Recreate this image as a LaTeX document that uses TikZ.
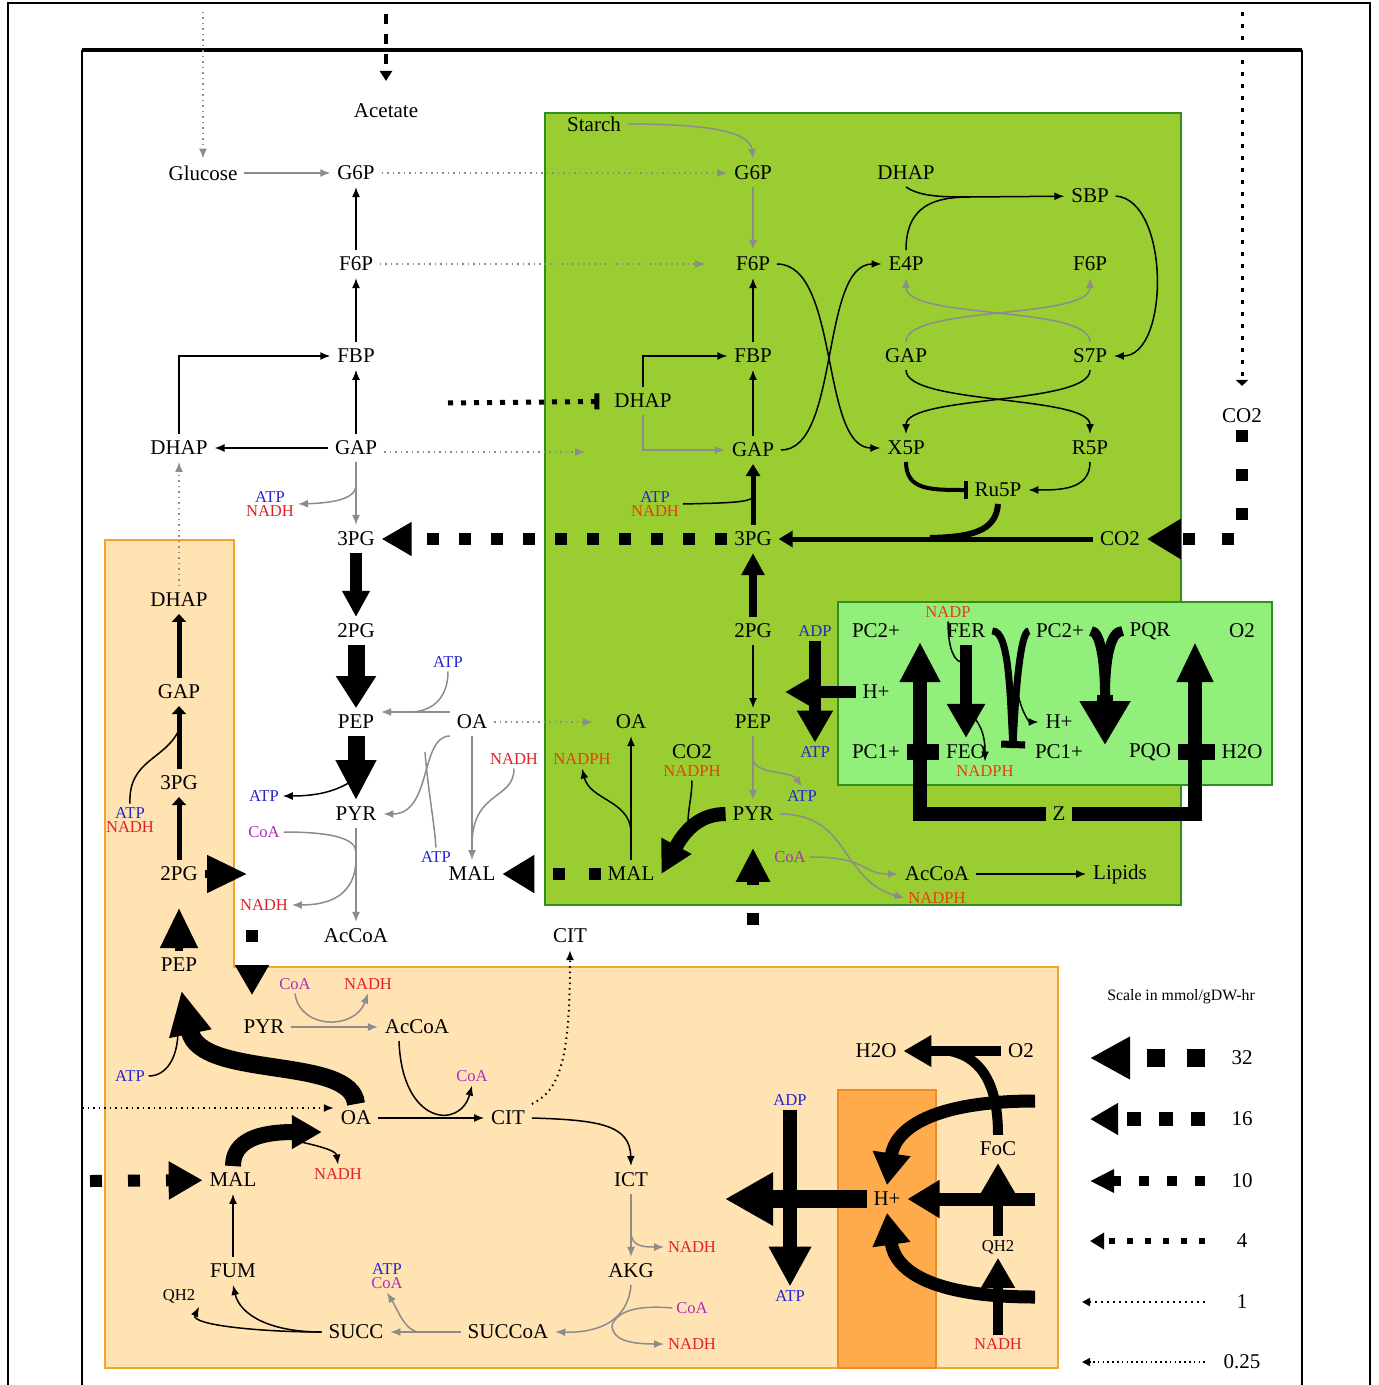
\documentclass[tikz,border=0pt]{standalone}
\usepackage{fontspec}
\setmainfont{Liberation Serif}
\usepackage{xcolor}
\definecolor{Chloro}{HTML}{9ACD32}
\definecolor{ChloroLine}{HTML}{2F8F1F}
\definecolor{Thyla}{HTML}{92EF7C}
\definecolor{Mito}{HTML}{FFE3B3}
\definecolor{MitoLine}{HTML}{F4A428}
\definecolor{Crista}{HTML}{FFAB4C}
\definecolor{CristaLine}{HTML}{EE8A22}
\definecolor{AtpBlue}{HTML}{2424D0}
\definecolor{NadhRed}{HTML}{E3202A}
\definecolor{NadphRed}{HTML}{E5400E}
\definecolor{CoaMag}{HTML}{B02CB8}
\definecolor{RxGray}{HTML}{8C8C8C}
\colorlet{chloro}{Chloro}
\colorlet{chloroline}{ChloroLine}
\colorlet{thyla}{Thyla}
\colorlet{mito}{Mito}
\colorlet{mitoline}{MitoLine}
\colorlet{crista}{Crista}
\colorlet{cristaline}{CristaLine}
\colorlet{atpblue}{AtpBlue}
\colorlet{nadhred}{NadhRed}
\colorlet{nadphred}{NadphRed}
\colorlet{coamag}{CoaMag}
\colorlet{rxgray}{RxGray}
\usepackage{tikz}
\usetikzlibrary{arrows.meta,calc}

\begin{document}
\begin{tikzpicture}[x=0.5pt,y=-0.5pt,
  met/.style={font=\fontsize{10.5}{11}\selectfont,inner sep=1pt,outer sep=2.5pt},
  cof/.style={font=\fontsize{8.3}{7}\selectfont,inner sep=0.5pt,outer sep=1.5pt,align=center},
  atp/.style={cof,text=atpblue}, nadh/.style={cof,text=nadhred}, nadph/.style={cof,text=nadphred}, coa/.style={cof,text=coamag},
  rx/.style={line width=0.75pt,-{Latex[length=5pt,width=4pt]}},
  grx/.style={rx,draw=rxgray}, side/.style={line width=0.75pt}, gside/.style={side,draw=rxgray},
  dotrx/.style={grx,dotted},
  fat/.style n args={3}{line width=#1,-{Triangle[length=#2,width=#3]}},
  tr/.style n args={4}{line width=#1,dash pattern=on #1 off #2,-{Triangle[length=#3,width=#4]}}]
\useasboundingbox (0,0) rectangle (1378,1385);
\fill[white] (0,0) rectangle (1378,1385);
% frames and compartments
\draw[line width=1pt] (8,1385) -- (8,3) -- (1370,3) -- (1370,1385);
\draw[line width=2pt] (82,50) -- (1302,50);
\draw[line width=0.8pt] (82,50) -- (82,1385) (1302,50) -- (1302,1385);
\draw[fill=chloro,draw=chloroline,line width=0.8pt] (545,113) rectangle (1181,905);
\draw[fill=mito,draw=mitoline,line width=0.8pt] (105,540) -- (234,540) -- (234,967) -- (1058,967) -- (1058,1368) -- (105,1368) -- cycle;
\draw[fill=crista,draw=cristaline,line width=0.8pt] (838,1090) rectangle (936,1368);
\draw[fill=thyla,draw=chloroline,line width=0.8pt] (838,602) rectangle (1272,785);

% cytosol
\node[met] (c-ace) at (386,111) {Acetate};
\node[met] (c-glc) at (203,173) {Glucose};
\node[met] (c-g6p) at (356,173) {G6P};
\node[met] (c-f6p) at (356,264) {F6P};
\node[met] (c-fbp) at (356,356) {FBP};
\node[met] (c-gap) at (356,448) {GAP};
\node[met] (c-dhap) at (179,448) {DHAP};
\node[cof] (c-an) at (270,504) {\textcolor{atpblue}{ATP}\\\textcolor{nadhred}{NADH}};
\node[met] (c-3pg) at (356,539) {3PG};
\node[met] (c-2pg) at (356,631) {2PG};
\node[met] (c-pep) at (356,722) {PEP};
\node[atp] (c-atp1) at (448,662) {ATP};
\node[met] (c-oa) at (472,722) {OA};
\node[nadh] (c-nadh1) at (514,759) {NADH};
\node[atp] (c-atp2) at (264,796) {ATP};
\node[met] (c-pyr) at (356,814) {PYR};
\node[coa] (c-coa) at (264,832) {CoA};
\node[atp] (c-atp3) at (436,857) {ATP};
\node[met] (c-mal) at (472,874) {MAL};
\node[nadh] (c-nadh2) at (264,905) {NADH};
\node[met] (c-accoa) at (356,936) {AcCoA};
\node[met] (c-cit) at (570,936) {CIT};

% chloroplast
\node[met] (g-starch) at (594,124) {Starch};
\node[met] (g-g6p) at (753,173) {G6P};
\node[met] (g-f6p) at (753,264) {F6P};
\node[met] (g-fbp) at (753,356) {FBP};
\node[met] (g-dhap) at (643,401) {DHAP};
\node[met] (g-gap) at (753,450) {GAP};
\node[cof] (g-an) at (655,504) {\textcolor{atpblue}{ATP}\\\textcolor{nadphred}{NADH}};
\node[met] (g-3pg) at (753,539) {3PG};
\node[met] (g-co2) at (1120,539) {CO2};
\node[met] (g-2pg) at (753,631) {2PG};
\node[met] (g-pep) at (753,722) {PEP};
\node[met] (g-oa) at (631,722) {OA};
\node[nadph] (g-nadph1) at (582,759) {NADPH};
\node[met] (g-co2b) at (692,752) {CO2};
\node[nadph] (g-nadph2) at (692,771) {NADPH};
\node[met] (g-pyr) at (753,814) {PYR};
\node[atp] (g-atp) at (802,796) {ATP};
\node[coa] (g-coa) at (790,857) {CoA};
\node[met] (g-mal) at (631,874) {MAL};
\node[met] (g-accoa) at (937,874) {AcCoA};
\node[met] (g-lip) at (1120,874) {Lipids};
\node[nadph] (g-nadph3) at (937,898) {NADPH};
\node[met] (k-dhap) at (906,173) {DHAP};
\node[met] (k-sbp) at (1090,196) {SBP};
\node[met] (k-e4p) at (906,264) {E4P};
\node[met] (k-f6p) at (1090,264) {F6P};
\node[met] (k-gap) at (906,356) {GAP};
\node[met] (k-s7p) at (1090,356) {S7P};
\node[met] (k-x5p) at (906,448) {X5P};
\node[met] (k-r5p) at (1090,448) {R5P};
\node[met] (k-ru5p) at (998,490) {Ru5P};
\node[met] (e-co2) at (1242,416) {CO2};

% thylakoid
\node[met] (t-pc2a) at (876,631) {PC2+};
\node[met] (t-fer) at (966,631) {FER};
\node[met] (t-pc2b) at (1060,631) {PC2+};
\node[met] (t-pqr) at (1150,631) {PQR};
\node[met] (t-o2) at (1242,631) {O2};
\node[met] (t-hp1) at (876,692) {H+};
\node[met] (t-hp2) at (1059,722) {H+};
\node[met] (t-pc1a) at (876,752) {PC1+};
\node[met] (t-feo) at (966,752) {FEO};
\node[met] (t-pc1b) at (1059,752) {PC1+};
\node[met] (t-pqo) at (1150,752) {PQO};
\node[met] (t-h2o) at (1242,752) {H2O};
\node[nadph] (t-nadp) at (948,612) {NADP};
\node[nadph] (t-nadph) at (985,771) {NADPH};
\node[met] (t-z) at (1059,814) {Z};
\node[atp] (t-adp) at (815,631) {ADP};
\node[atp] (t-atp) at (815,752) {ATP};

% mitochondrion
\node[met] (m-dhap) at (179,600) {DHAP};
\node[met] (m-gap) at (179,692) {GAP};
\node[met] (m-3pg) at (179,783) {3PG};
\node[cof] (m-an) at (130,820) {\textcolor{atpblue}{ATP}\\\textcolor{nadhred}{NADH}};
\node[met] (m-2pg) at (179,874) {2PG};
\node[met] (m-pep) at (179,965) {PEP};
\node[met] (m-pyr) at (264,1027) {PYR};
\node[coa] (m-coa1) at (295,984) {CoA};
\node[nadh] (m-nadh1) at (368,984) {NADH};
\node[met] (m-accoa) at (417,1027) {AcCoA};
\node[atp] (m-atp) at (130,1076) {ATP};
\node[coa] (m-coa2) at (472,1076) {CoA};
\node[met] (m-oa) at (356,1118) {OA};
\node[met] (m-cit) at (508,1118) {CIT};
\node[met] (m-mal) at (233,1180) {MAL};
\node[nadh] (m-nadh2) at (338,1174) {NADH};
\node[met] (m-ict) at (631,1180) {ICT};
\node[met] (m-fum) at (233,1271) {FUM};
\node[met] (m-akg) at (631,1271) {AKG};
\node[nadh] (m-nadh3) at (692,1247) {NADH};
\node[cof] (m-qh2) at (179,1296) {QH2};
\node[cof] (m-ac) at (387,1276) {\textcolor{atpblue}{ATP}\\\textcolor{coamag}{CoA}};
\node[met] (m-succ) at (356,1332) {SUCC};
\node[met] (m-succoa) at (508,1332) {SUCCoA};
\node[coa] (m-coa3) at (692,1308) {CoA};
\node[nadh] (m-nadh4) at (692,1344) {NADH};
\node[met] (r-h2o) at (876,1051) {H2O};
\node[met] (r-o2) at (1021,1051) {O2};
\node[atp] (r-adp) at (790,1100) {ADP};
\node[met] (r-foc) at (998,1149) {FoC};
\node[met] (r-hp) at (887,1199) {H+};
\node[cof] (r-qh2) at (998,1247) {QH2};
\node[atp] (r-atp) at (790,1296) {ATP};
\node[nadh] (r-nadh) at (998,1344) {NADH};

% scale
\node[font=\fontsize{7.9}{9}\selectfont] (s-title) at (1181,997) {Scale in mmol/gDW-hr};
\node[met] (s32) at (1242,1058) {32};
\node[met] (s16) at (1242,1119) {16};
\node[met] (s10) at (1242,1181) {10};
\node[met] (s4) at (1242,1241) {4};
\node[met] (s1) at (1242,1302) {1};
\node[met] (s025) at (1242,1362) {0.25};

% cytosol reactions
\coordinate (glc-in) at (203,12);
\draw[dotrx] (glc-in) -- (c-glc);
\coordinate (ace-in) at (386,14);
\draw[line width=2pt,dash pattern=on 5pt off 5pt,-{Triangle[length=5pt,width=6pt]},shorten >=8pt] (ace-in) -- (c-ace);
\draw[grx] (c-glc) -- (c-g6p);
\draw[dotrx] (c-g6p) -- (g-g6p);
\draw[dotrx,shorten >=12pt] (c-f6p) -- (g-f6p);
\coordinate (gap-out) at (585,452);
\draw[dotrx] (c-gap.east |- gap-out) -- (gap-out);
\draw[rx] (c-f6p) -- (c-g6p);
\draw[rx] (c-fbp) -- (c-f6p);
\draw[rx] (c-gap) -- (c-fbp);
\draw[rx] (c-gap) -- (c-dhap);
\draw[rx] (c-dhap) |- (c-fbp);
\draw[grx] (c-gap) -- (c-3pg);
\coordinate (j-gap) at (356,485);
\draw[grx] (j-gap) .. controls (356,500) and (330,503) .. (c-an.east);
\draw[tr={6pt}{10pt}{15pt}{16pt}] (g-3pg) -- (c-3pg);
\draw[fat={6pt}{13pt}{13pt}] (c-3pg) -- (c-2pg);
\draw[fat={8.5pt}{16pt}{19pt}] (c-2pg) -- (c-pep);
\draw[fat={8.5pt}{20pt}{19pt}] (c-pep) -- (c-pyr);
\coordinate (j-pep) at (356,778);
\draw[rx] (j-pep) .. controls (340,790) and (320,796) .. (c-atp2.east);
\draw[grx] (c-pyr) -- (c-accoa);
\coordinate (j-pyr1) at (356,852);
\coordinate (j-pyr2) at (356,858);
\draw[gside] (c-coa.east) .. controls (330,832) and (356,838) .. (j-pyr1);
\draw[grx] (j-pyr2) .. controls (356,895) and (330,905) .. (c-nadh2.east);
\draw[grx] ([yshift=5pt]c-oa.west) -- ([yshift=5pt]c-pep.east);
\coordinate (j-oa1) at (410,712);
\draw[gside] (c-atp1.south) .. controls (448,700) and (430,712) .. (j-oa1);
\draw[grx] ([yshift=-7pt]c-oa.west) .. controls (420,736) and (432,814) .. (c-pyr.east);
\coordinate (j-oa2) at (425,752);
\draw[gside] (j-oa2) .. controls (428,790) and (434,820) .. (c-atp3.north);
\draw[grx] (c-oa) -- (c-mal);
\coordinate (j-oa3) at (472,842);
\draw[gside] (c-nadh1.south) .. controls (514,800) and (474,790) .. (j-oa3);
\draw[dotrx,shorten >=8pt] (c-oa) -- (g-oa);
\draw[tr={6pt}{12pt}{16pt}{18pt}] (g-mal) -- (c-mal);
\coordinate (dhap-in) at (448,403);
\draw[line width=2.5pt,dash pattern=on 2.5pt off 4pt,-{Bar[width=8pt]},shorten >=4pt] (dhap-in) -- (g-dhap);

% chloroplast reactions
\draw[grx] (g-starch.east) .. controls (700,124) and (750,130) .. (g-g6p.north);
\draw[grx] (g-g6p) -- (g-f6p);
\draw[rx] (g-fbp) -- (g-f6p);
\draw[rx] (g-gap) -- (g-fbp);
\draw[rx] (g-dhap) |- (g-fbp);
\draw[grx] (g-dhap) |- (g-gap);
\draw[fat={2.5pt}{6pt}{7pt}] (g-3pg) -- (g-gap);
\coordinate (j-g3pg) at (753,497);
\draw[side] (g-an.east) .. controls (720,503) and (750,503) .. (j-g3pg);
\draw[fat={4pt}{11pt}{11pt}] (g-2pg) -- (g-3pg);
\draw[rx] (g-2pg) -- (g-pep);
\draw[grx] (g-pep) -- (g-pyr);
\coordinate (j-gpep) at (753,758);
\draw[grx] (j-gpep) .. controls (753,775) and (790,770) .. (g-atp.north);
\draw[fat={7pt}{16pt}{16pt}] (g-pyr.west) .. controls (700,814) and (685,830) .. (g-mal.east);
\coordinate (j-gpyr) at (688,822);
\draw[side] (g-nadph2.south) .. controls (692,795) and (688,810) .. (j-gpyr);
\draw[rx] (g-mal) -- (g-oa);
\coordinate (j-gmal) at (631,830);
\draw[rx] (j-gmal) .. controls (628,800) and (590,800) .. (g-nadph1.south);
\draw[grx] (g-pyr.east) .. controls (850,814) and (840,880) .. (g-nadph3.west);
\draw[grx] (g-coa.east) .. controls (870,857) and (860,874) .. (g-accoa.west);
\draw[rx] (g-accoa) -- (g-lip);
\coordinate (pyr-in) at (753,925);
\draw[tr={6pt}{14pt}{17pt}{16pt},shorten >=10pt] (pyr-in) -- (g-pyr);
\draw[fat={2.5pt}{7pt}{8pt}] (g-co2) -- (g-3pg);
\coordinate (j-ru5p) at (930,538);
\draw[line width=3pt] (k-ru5p.south) .. controls (996,532) and (970,537) .. (j-ru5p);
\draw[rx] (g-f6p.east) .. controls (840,264) and (820,448) .. (k-x5p.west);
\draw[rx] (g-gap.east) .. controls (840,450) and (820,264) .. (k-e4p.west);
\coordinate (j-sbp) at (970,197);
\draw[side] (k-dhap.south) .. controls (920,197) and (945,197) .. (j-sbp);
\draw[side] (k-e4p.north) .. controls (906,205) and (935,197) .. (j-sbp);
\draw[rx] (j-sbp) -- (k-sbp);
\draw[rx] (k-sbp.east) .. controls (1170,200) and (1170,356) .. (k-s7p.east);
\draw[grx] (k-gap.north) .. controls (906,305) and (1090,320) .. (k-f6p.south);
\draw[grx] (k-s7p.north) .. controls (1090,305) and (906,320) .. (k-e4p.south);
\draw[rx] (k-gap.south) .. controls (906,405) and (1090,395) .. (k-r5p.north);
\draw[rx] (k-s7p.south) .. controls (1090,405) and (906,395) .. (k-x5p.north);
\draw[line width=2pt,-{Bar[width=9pt]}] (k-x5p.south) .. controls (906,490) and (930,490) .. (k-ru5p.west);
\draw[rx] (k-r5p.south) .. controls (1090,490) and (1060,490) .. (k-ru5p.east);
\coordinate (co2-in) at (1242,12);
\draw[line width=1.5pt,dash pattern=on 2pt off 4pt,-{Triangle[length=3pt,width=6pt]},shorten >=8pt] (co2-in) -- (e-co2);
\draw[tr={6pt}{13.5pt}{17pt}{19pt}] (e-co2) |- (g-co2);

% thylakoid reactions
\coordinate (hp-out) at (785,692);
\draw[fat={6pt}{16pt}{17pt}] (t-hp1) -- (hp-out);
\draw[fat={6pt}{16pt}{17pt}] (t-adp) -- (t-atp);
\coordinate (zl) at (920,642);
\coordinate (zr) at (1195,642);
\draw[fat={7pt}{20pt}{19pt}] (t-z.west) -| (zl);
\draw[fat={7pt}{20pt}{17pt}] (t-z.east) -| (zr);
\draw[line width=8pt] (t-pc1a.east) -- (t-feo.west);
\draw[line width=8pt] (t-pqo.east) -- (t-h2o.west);
\draw[fat={6pt}{17pt}{18pt}] (t-fer) -- (t-feo);
\coordinate (j-fer1) at (962,662);
\coordinate (j-fer2) at (968,712);
\draw[side] (t-nadp.south) .. controls (948,650) and (955,662) .. (j-fer1);
\draw[rx] (j-fer2) .. controls (985,725) and (985,745) .. (t-nadph.north);
\coordinate (cb) at (1013,748);
\draw[line width=3.5pt] (t-fer.east) .. controls (1010,630) and (1010,700) .. (cb);
\draw[line width=3.5pt,-{Bar[width=12pt]}] (t-pc2b.west) .. controls (1020,630) and (1015,700) .. (cb);
\coordinate (j-cb) at (1017,690);
\draw[rx] (j-cb) .. controls (1022,715) and (1030,722) .. (t-hp2.west);
\coordinate (pq) at (1105,695);
\coordinate (pq2) at (1105,745);
\draw[line width=5pt] (t-pc2b.east) .. controls (1100,631) and (1105,660) .. (pq);
\draw[line width=5pt] (t-pqr.west) .. controls (1110,631) and (1105,660) .. (pq);
\draw[fat={8pt}{22pt}{24pt}] (pq) -- (pq2);

% mitochondrion reactions
\draw[dotrx] (m-dhap) -- (c-dhap);
\draw[fat={2.5pt}{4pt}{7pt}] (m-gap) -- (m-dhap);
\draw[fat={2.5pt}{4pt}{7pt}] (m-3pg) -- (m-gap);
\draw[fat={2.5pt}{4pt}{7pt}] (m-2pg) -- (m-3pg);
\coordinate (j-m3pg) at (179,730);
\draw[side] (m-an.north) .. controls (128,760) and (165,760) .. (j-m3pg);
\draw[fat={4pt}{20pt}{18pt},shorten >=10pt] (m-pep) -- (m-2pg);
\coordinate (m2pg-out) at (247,874);
\draw[fat={4pt}{20pt}{18pt}] (m-2pg) -- (m2pg-out);
\coordinate (pyrm-in) at (252,930);
\draw[tr={6pt}{12pt}{15pt}{16pt},shorten >=9pt] (pyrm-in) -- (pyrm-in |- m-pyr.north);
\draw[fat={9pt}{22pt}{20pt},shorten >=6pt] (m-oa.north) .. controls (352,1055) and (200,1080) .. (m-pep.south);
\coordinate (j-moa) at (178,1030);
\draw[side] (m-atp.east) .. controls (165,1076) and (178,1060) .. (j-moa);
\draw[grx] (m-pyr) -- (m-accoa);
\draw[grx] (m-coa1.south) .. controls (300,1030) and (355,1030) .. (m-nadh1.south);
\draw[rx] (m-oa) -- (m-cit);
\draw[rx] ([xshift=-9pt]m-accoa.south) .. controls (402,1125) and (460,1130) .. (m-coa2.south);
\draw[rx,dotted,line width=1pt] (m-cit.north east) .. controls (560,1090) and (570,1060) .. (c-cit.south);
\coordinate (oa-in) at (82,1108);
\draw[rx,dotted,line width=0.8pt] (oa-in) -- (oa-in -| m-oa.west);
\coordinate (mal-in) at (90,1181);
\draw[tr={6pt}{13pt}{17pt}{18pt}] (mal-in) -- (m-mal);
\draw[fat={8pt}{15pt}{16pt},shorten >=6pt] (m-mal.north) .. controls (233,1140) and (260,1132) .. (m-oa.south west);
\coordinate (j-mmal) at (292,1140);
\draw[rx] (j-mmal) .. controls (315,1145) and (336,1150) .. (m-nadh2.north);
\draw[rx] (m-cit.east) .. controls (600,1120) and (630,1125) .. (m-ict.north);
\draw[grx] (m-ict) -- (m-akg);
\coordinate (j-mict) at (631,1232);
\draw[grx] (j-mict) .. controls (631,1247) and (645,1247) .. (m-nadh3.west);
\draw[grx] (m-akg.south) .. controls (628,1320) and (600,1333) .. (m-succoa.east);
\coordinate (j-makg) at (612,1325);
\draw[gside] (m-coa3.west) .. controls (640,1305) and (618,1310) .. (j-makg);
\draw[grx] (j-makg) .. controls (612,1340) and (630,1344) .. (m-nadh4.west);
\draw[grx] (m-succoa) -- (m-succ);
\coordinate (j-msucc) at (420,1332);
\draw[grx] (j-msucc) .. controls (405,1332) and (398,1310) .. (m-ac.south);
\draw[rx] (m-succ.west) .. controls (270,1332) and (240,1315) .. (m-fum.south);
\draw[rx] (m-succ.west) .. controls (260,1332) and (190,1325) .. (m-qh2.south east);
\draw[rx] (m-fum) -- (m-mal);
\draw[fat={5pt}{14pt}{15pt}] (r-o2) -- (r-h2o);
\coordinate (j-h2o) at (950,1051);
\draw[line width=5pt] (r-foc.north) .. controls (998,1090) and (985,1058) .. (j-h2o);
\coordinate (e1) at (1035,1101);
\coordinate (e2) at (1035,1199);
\coordinate (e3) at (1035,1297);
\draw[fat={6.5pt}{16pt}{18pt}] (e1) .. controls (930,1101) and (895,1130) .. (r-hp.north);
\draw[fat={6.5pt}{16pt}{18pt}] (e2) -- (r-hp.east);
\draw[fat={6.5pt}{16pt}{18pt}] (e3) .. controls (930,1297) and (895,1270) .. (r-hp.south);
\draw[fat={5pt}{15pt}{16pt}] (r-qh2) -- (r-foc);
\draw[fat={5pt}{15pt}{16pt}] (r-nadh) -- (r-qh2);
\coordinate (hpm-out) at (725,1199);
\draw[fat={9pt}{24pt}{25pt}] (r-hp) -- (hpm-out);
\draw[fat={7pt}{20pt}{20pt}] (r-adp) -- (r-atp);

% scale arrows
\coordinate (b32) at (1205,1058); \coordinate (a32) at (1090,1058);
\coordinate (b16) at (1205,1119); \coordinate (a16) at (1090,1119);
\coordinate (b10) at (1205,1181); \coordinate (a10) at (1090,1181);
\coordinate (b4) at (1205,1241); \coordinate (a4) at (1090,1241);
\coordinate (b1) at (1205,1302); \coordinate (a1) at (1082,1302);
\coordinate (b025) at (1205,1362); \coordinate (a025) at (1082,1362);
\draw[tr={9pt}{11pt}{20pt}{20pt}] (b32) -- (a32);
\draw[tr={7pt}{9pt}{14pt}{15pt}] (b16) -- (a16);
\draw[tr={5pt}{9pt}{12pt}{11pt}] (b10) -- (a10);
\draw[tr={3pt}{6pt}{7pt}{8pt}] (b4) -- (a4);
\draw[line width=1pt,dash pattern=on 1pt off 2pt,-{Triangle[length=4pt,width=4pt]}] (b1) -- (a1);
\draw[line width=0.8pt,dash pattern=on 0.8pt off 1.6pt,-{Triangle[length=4pt,width=4pt]}] (b025) -- (a025);
\end{tikzpicture}
\end{document}
